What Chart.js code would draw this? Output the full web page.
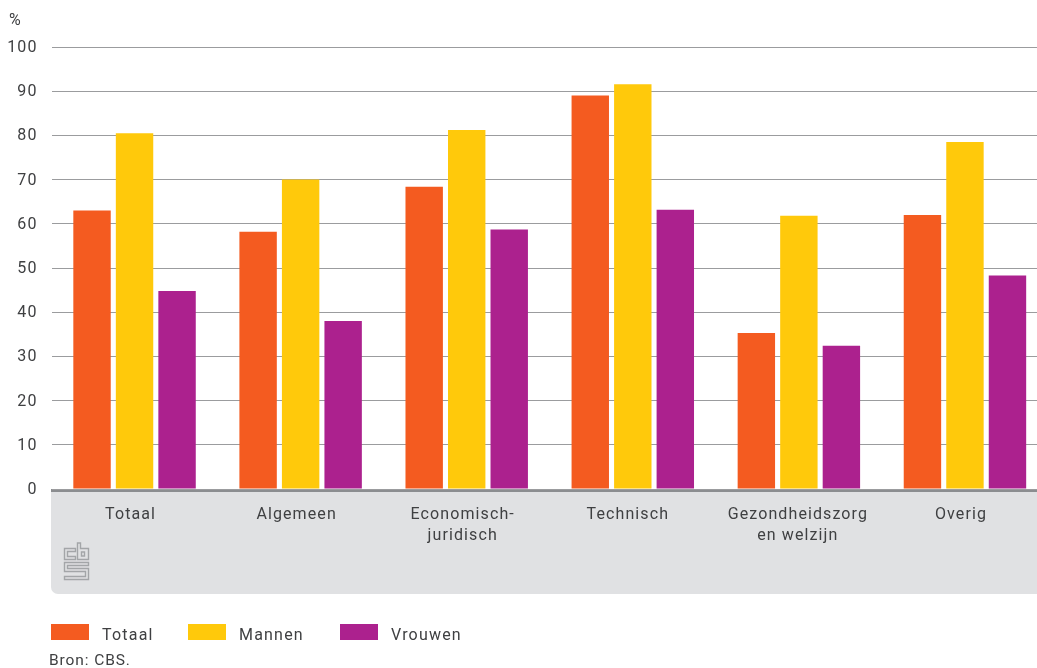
<!DOCTYPE html>
<html>
<head>
<meta charset="utf-8">
<title>Chart</title>
<script src="https://cdn.jsdelivr.net/npm/chart.js@4"></script>
<style>
  html, body { margin: 0; padding: 0; background: #fff; overflow: hidden; }
  #page { position: relative; width: 1037px; height: 668px; overflow: hidden; font-family: Roboto, sans-serif; color: #3f4042; }
  #band { position: absolute; left: 51px; top: 489px; width: 986px; height: 102px; background: #e0e1e3; border-top: 3px solid #8b8d90; border-bottom-left-radius: 7px; }
  #logo { position: absolute; left: 63px; top: 542px; }
  canvas { position: absolute; left: 0; top: 0; }
  #unit { position: absolute; left: 9px; top: 10px; font-size: 16px; }
  #legend { position: absolute; left: 51px; top: 624px; display: flex; font-size: 16px; letter-spacing: 1.2px; }
  .item { display: flex; align-items: flex-start; }
  .item:nth-child(1) { width: 137px; }
  .item:nth-child(2) { width: 152px; }
  .box { width: 38px; height: 16px; margin-right: 13px; }
  .txt { line-height: 20px; margin-top: 1px; }
  #source { position: absolute; left: 49px; top: 651px; font-size: 15.5px; letter-spacing: 0.9px; }
</style>
</head>
<body>
<div id="page">
  <div id="band"></div>
  <svg id="logo" width="27" height="40" viewBox="0 0 27 40" fill="none" stroke="#a3a5a8" stroke-width="1.4">
    <path d="M1.5 6.5H12.5V9.5H4.5V14.5H12.5V17.5H1.5Z"/>
    <path d="M14.5 1H17.5V6.5H25.5V17.5H14.5Z"/>
    <path d="M18.5 10H21.5V14H18.5Z"/>
    <path d="M1.5 20.5H25.5V23.5H4.5V26.5H25.5V37.5H1.5V34.5H22.5V29.5H1.5Z"/>
  </svg>
  <canvas id="chart" width="1048" height="668"></canvas>
  <div id="unit">%</div>
  <div id="legend"></div>
  <div id="source">Bron: CBS.</div>
</div>
<script>
// Les données
const categories = ['Totaal', 'Algemeen', ['Economisch-', 'juridisch'], 'Technisch', ['Gezondheidszorg', 'en welzijn'], 'Overig'];
const seriesNames = ['Totaal', 'Mannen', 'Vrouwen'];
const totaal = [63, 58.2, 68.4, 89, 35.3, 62];
const mannen = [80.5, 70, 81.2, 91.6, 61.8, 78.5];
const vrouwen = [44.8, 38, 58.7, 63.2, 32.4, 48.3];
const colors = ['#f45b20', '#ffc90b', '#ac218e'];

const textColor = '#3f4042';

// Espacement des lettres, et petit décalage des étiquettes des axes
const labelShift = [-4, -4, -4, -5, -1, -4];
const textTweaks = {
    id: 'textTweaks',
    beforeDraw(chart) {
        chart.ctx.letterSpacing = '1.1px';
        if (!chart.$shifted) {
            chart.scales.x.getLabelItems().forEach((item, i) => {
                item.options.translation[0] += labelShift[i];
            });
            chart.scales.y.getLabelItems().forEach(item => {
                item.options.translation[1] += 1;
            });
            chart.$shifted = true;
        }
    }
};

const chart = new Chart(document.getElementById('chart'), {
    type: 'bar',
    data: {
        labels: categories,
        datasets: [totaal, mannen, vrouwen].map((values, i) => ({
            label: seriesNames[i],
            data: values,
            backgroundColor: colors[i],
            categoryPercentage: 0.768,
            barPercentage: 0.88
        }))
    },
    options: {
        responsive: false,
        animation: false,
        layout: { padding: { top: 47, left: 0, right: 0, bottom: 0 } },
        plugins: {
            legend: { display: false },
            tooltip: { enabled: false }
        },
        scales: {
            x: {
                afterFit(scale) { scale.height = 179; },
                grid: { display: false },
                border: { display: false },
                ticks: {
                    color: textColor,
                    font: { family: 'Roboto', size: 16, lineHeight: 1.3 },
                    maxRotation: 0,
                    autoSkip: false,
                    padding: 8
                }
            },
            y: {
                min: 0,
                max: 100,
                afterFit(scale) { scale.width = 51.5; },
                border: { display: false },
                grid: { color: '#9b9c9e', lineWidth: 1, drawTicks: false },
                ticks: {
                    stepSize: 10,
                    color: textColor,
                    font: { family: 'Roboto', size: 16 },
                    padding: 14
                }
            }
        }
    },
    plugins: [textTweaks]
});

// La légende
const legend = document.getElementById('legend');
chart.data.datasets.forEach(ds => {
    const item = document.createElement('div');
    item.className = 'item';
    const box = document.createElement('div');
    box.className = 'box';
    box.style.background = ds.backgroundColor;
    const txt = document.createElement('div');
    txt.className = 'txt';
    txt.textContent = ds.label;
    item.append(box, txt);
    legend.appendChild(item);
});
</script>
</body>
</html>
